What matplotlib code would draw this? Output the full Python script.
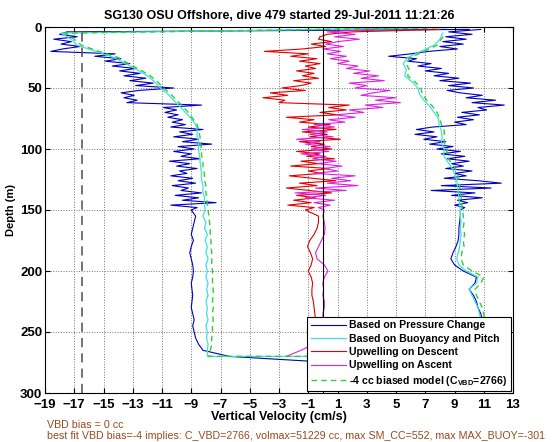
import numpy as np
import matplotlib
matplotlib.use("Agg")
import matplotlib.pyplot as plt

plt.rcParams["font.family"] = "Liberation Sans"
plt.rcParams["mathtext.fontset"] = "custom"
plt.rcParams["mathtext.rm"] = "Liberation Sans"
plt.rcParams["mathtext.bf"] = "Liberation Sans:bold"

# depth grids (m)
depth_fine = np.arange(2, 151, 2)      # 2..150, noisy upper part
depth_deep = np.arange(155, 271, 5)    # 155..270
depth_coarse = np.arange(5, 271, 5)    # 5..270 for smoother curves
depth_surface = 0.5
depth_bottom = 274

# vertical velocity from pressure change (cm/s)
blue_desc_fine = [
    10.0, -17.5, -18.0, -16.8, -18.4, -17.2, -17.9, -16.6, -17.8, -18.6,
    -14.2, -15.6, -13.8, -14.9, -13.2, -14.4, -12.8, -13.9, -12.5, -13.6,
    -12.1, -13.2, -11.6, -12.8, -10.2, -12.6, -13.8, -12.9, -13.6, -12.7,
    -13.4, -8.3, -10.9, -10.0, -10.8, -9.9, -10.6, -9.6, -10.3, -9.4,
    -10.4, -8.2, -9.8, -8.9, -10.2, -8.5, -9.6, -7.6, -9.9, -8.8,
    -10.2, -9.0, -9.7, -8.4, -10.5, -9.1, -10.0, -8.6, -9.8, -9.3,
    -10.4, -8.9, -9.9, -8.7, -10.3, -9.2, -9.7, -8.3, -10.1, -8.5,
    -9.6, -7.3, -10.4, -8.6, -9.0,
]
blue_desc_deep = [
    -8.7, -8.8, -8.9, -9.0, -8.85, -9.0, -9.1, -9.0, -8.9, -8.85, -8.9, -9.0,
    -8.95, -8.9, -8.95, -9.0, -8.9, -8.8, -8.9, -8.8, -8.7, -8.5, -8.2, -6.4,
]
blue_bottom = -0.8
blue_asc_fine = [
    10.8, 8.6, 10.2, 8.4, 9.8, 8.2, 9.6, 8.0, 9.2, 7.2,
    6.0, 4.5, 6.4, 5.8, 7.4, 6.5, 8.1, 7.0, 8.6, 7.6,
    9.3, 8.0, 10.1, 8.6, 10.3, 8.5, 9.4, 10.9, 9.8, 11.8,
    10.2, 12.4, 10.6, 11.2, 9.5, 10.7, 9.2, 10.3, 9.0, 9.8,
    7.5, 6.4, 7.6, 6.3, 7.8, 6.9, 8.4, 7.3, 8.9, 7.8,
    9.4, 8.1, 9.7, 8.5, 10.0, 8.8, 9.6, 8.4, 10.2, 9.0,
    9.8, 8.3, 10.6, 12.2, 8.1, 11.5, 7.4, 10.4, 8.8, 10.9,
    9.2, 9.9, 9.0, 9.7, 9.4,
]
blue_asc_deep = [
    9.4, 9.35, 9.3, 9.3, 9.25, 9.1, 8.9, 8.75, 9.0, 9.6, 10.5, 10.4,
    10.0, 10.3, 10.5, 10.6, 10.8, 10.9, 10.95, 11.0, 10.9, 10.8, 10.6, 10.4,
]

# vertical velocity from buoyancy and pitch (cm/s)
cyan_surface = 8.3
cyan_desc = [
    -17.9, -17.2, -16.8, -15.5, -14.3, -13.5, -12.7, -12.0, -11.5, -11.1,
    -10.6, -10.2, -9.8, -9.4, -9.0, -8.7, -8.6, -8.6, -8.5, -8.5,
    -8.45, -8.4, -8.35, -8.3, -8.3, -8.2, -8.2, -8.1, -8.1, -8.05,
    -8.2, -8.0, -8.1, -7.9, -8.05, -7.9, -8.0, -7.85, -8.0, -7.9,
    -8.0, -7.85, -7.95, -7.85, -8.0, -7.9, -7.95, -7.85, -8.0, -7.9,
    -7.95, -7.85, -7.9, -7.9,
]
cyan_asc = [
    8.2, 8.0, 7.6, 6.7, 5.8, 5.5, 5.7, 5.6, 6.1, 6.5,
    6.6, 6.9, 7.3, 7.6, 7.9, 7.95, 8.1, 8.15, 8.1, 8.3,
    8.25, 8.5, 8.8, 9.0, 9.15, 9.2, 9.25, 9.3, 9.35, 9.4,
    9.4, 9.45, 9.4, 9.45, 9.4, 9.35, 9.25, 9.15, 9.3, 9.8,
    10.6, 10.5, 10.0, 10.2, 10.4, 10.6, 10.7, 10.8, 10.85, 10.9,
    10.85, 10.7, 10.55, 10.4,
]

# -4 cc biased flight model (cm/s)
green_surface = 8.5
green_desc = [
    -17.6, -17.0, -16.5, -15.3, -14.0, -13.3, -12.5, -11.8, -11.3, -10.9,
    -10.4, -10.0, -9.6, -9.2, -8.9, -8.6, -8.5, -8.4, -8.4, -8.3,
    -8.3, -8.2, -8.2, -8.1, -8.1, -8.0, -8.0, -7.95, -7.9, -7.85,
    -7.8, -7.75, -7.7, -7.7, -7.65, -7.65, -7.6, -7.6, -7.6, -7.55,
    -7.55, -7.55, -7.5, -7.5, -7.55, -7.5, -7.55, -7.5, -7.55, -7.55,
    -7.6, -7.6, -7.7, -7.8,
]
green_asc = [
    8.4, 8.1, 7.8, 6.9, 6.0, 5.7, 5.9, 5.8, 6.3, 6.7,
    6.8, 7.1, 7.5, 7.8, 8.0, 8.1, 8.3, 8.3, 8.3, 8.5,
    8.45, 8.7, 9.0, 9.2, 9.3, 9.35, 9.4, 9.45, 9.5, 9.55,
    9.6, 9.65, 9.6, 9.7, 9.6, 9.65, 9.5, 9.45, 9.6, 10.2,
    11.0, 10.8, 10.4, 10.5, 10.7, 10.9, 11.0, 11.05, 11.1, 11.1,
    11.0, 10.9, 10.7, 10.6,
]

# upwelling = pressure - model (cm/s)
red_fine = [
    8.0, 2.0, 0.3, -0.2, -0.3, 0.6, -0.8, 0.2, -1.4, -4.0,
    -1.0, -2.2, -0.4, -1.6, -0.2, -1.2, -0.5, -1.8, -0.6, -1.4,
    -0.3, -2.0, -0.8, -1.5, -2.8, -1.2, -3.6, -2.4, -4.1, -2.6,
    -3.0, 1.8, 0.4, 1.6, -0.2, 1.0, -2.5, -0.6, -1.6, 0.5,
    -1.0, 0.9, -1.4, 0.3, -0.9, 1.2, -1.6, 0.1, -0.8, 0.6,
    -1.8, -0.2, -1.1, 0.8, -1.5, -0.3, -2.2, 0.4, -1.0, -0.1,
    -2.3, -0.7, 0.9, -1.6, -0.4, -2.5, -0.9, 0.6, -1.8, -0.5,
    -2.0, -0.8, -2.4, -0.6, -1.2,
]
red_deep = [
    -0.3, -0.3, -0.4, -0.6, -0.9, -1.05, -0.85, -0.7, -0.8, -1.0, -0.8, -0.7,
    -0.75, -0.75, -0.65, -0.6, -0.55, -0.5, -0.55, -0.6, -0.5, -0.5, -0.45, -0.4,
]
magenta_fine = [
    3.5, 0.3, 2.2, 0.8, 2.5, 1.0, 0.2, 1.4, 0.0, 1.2,
    0.3, 1.6, 0.5, 1.8, 1.0, 2.4, 1.6, 3.2, 2.1, 3.8,
    2.6, 4.2, 1.8, 3.0, 2.2, 4.6, 3.4, 2.6, 5.0, 3.6,
    5.3, 2.9, 4.1, 1.8, 2.8, 0.9, 2.2, 0.4, 1.5, -0.6,
    0.8, -1.4, 0.3, -0.9, 0.7, -1.8, -0.2, -1.2, 0.5, -0.8,
    0.4, -1.5, 0.2, -0.7, 0.9, -0.4, 1.3, 0.1, 1.0, -0.6,
    2.2, 0.6, 1.9, 0.3, 2.4, -0.5, 1.6, -1.9, 0.2, -1.2,
    0.8, -0.6, 0.5, -0.3, 0.1,
]
magenta_deep = [
    0.0, 0.1, 0.15, 0.1, -0.1, -0.3, -0.5, -0.4, 0.1, 0.35, 0.1, 0.0,
    0.05, 0.0, 0.1, 0.1, 0.0, 0.0, -0.1, -0.1, -0.3, -0.6, -1.5, -2.5,
]

vbd_line = -16.5
title = "SG130 OSU Offshore, dive 479 started 29-Jul-2011 11:21:26"
note1 = "VBD bias = 0 cc"
note2 = ("best fit VBD bias=-4 implies: C_VBD=2766, volmax=51229 cc, "
         "max SM_CC=552, max MAX_BUOY=-301")
labels = [
    "Based on Pressure Change",
    "Based on Buoyancy and Pitch",
    "Upwelling on Descent",
    "Upwelling on Ascent",
    r"-4 cc biased model (C$_{\mathbf{VBD}}$=2766)",
]


def dive_profile(desc_depth, desc_vals, asc_depth, asc_vals):
    """Join descent (going down) and ascent (coming up) into one trace."""
    depth = np.concatenate([desc_depth, asc_depth[::-1]])
    vals = np.concatenate([desc_vals, np.asarray(asc_vals)[::-1]])
    return vals, depth


fig = plt.figure(figsize=(5.6, 4.42), dpi=100)
ax = fig.add_axes([45 / 560, 49 / 442, 468 / 560, 366 / 442])

blue_depth_desc = np.concatenate([depth_fine, depth_deep, [depth_bottom]])
blue_vals_desc = np.concatenate([blue_desc_fine, blue_desc_deep, [blue_bottom]])
blue_depth_asc = np.concatenate([depth_fine, depth_deep])
blue_vals_asc = np.concatenate([blue_asc_fine, blue_asc_deep])
bx, by = dive_profile(blue_depth_desc, blue_vals_desc, blue_depth_asc, blue_vals_asc)

cx, cy = dive_profile(np.concatenate([[depth_surface], depth_coarse]),
                      np.concatenate([[cyan_surface], cyan_desc]),
                      depth_coarse, cyan_asc)
gx, gy = dive_profile(np.concatenate([[depth_surface], depth_coarse]),
                      np.concatenate([[green_surface], green_desc]),
                      depth_coarse, green_asc)

ax.plot(bx, by, color="#0000c0", lw=0.8, label=labels[0])
ax.plot(cx, cy, color="#40e0e0", lw=0.9, label=labels[1])
ax.plot(np.concatenate([red_fine, red_deep]), np.concatenate([depth_fine, depth_deep]),
        color="#e00000", lw=0.8, label=labels[2])
ax.plot(np.concatenate([magenta_fine, magenta_deep]), np.concatenate([depth_fine, depth_deep]),
        color="#e020e0", lw=0.8, label=labels[3])
ax.plot(gx, gy, color="#30d030", lw=1.0, ls=(0, (4, 3)), label=labels[4])

ax.axvline(0, color="black", lw=0.8)
ax.axvline(vbd_line, color="0.3", lw=1.1, ls=(0, (6, 4)))

ax.set_xlim(-19, 13)
ax.set_ylim(300, 0)
ax.set_xticks(np.arange(-19, 14, 2))
ax.set_yticks(np.arange(0, 301, 50))
ax.grid(True, ls=":", color="0.45", lw=0.7)
ax.tick_params(direction="in", top=True, right=True, length=3.5, labelsize=9.5)
ax.tick_params(axis="x", pad=4)
ax.tick_params(axis="y", pad=2)
for lbl in ax.get_xticklabels() + ax.get_yticklabels():
    lbl.set_fontweight("bold")

ax.set_title(title, fontsize=9, fontweight="bold", pad=6)
ax.set_xlabel("Vertical Velocity (cm/s)", fontsize=9, fontweight="bold", labelpad=0)
ax.set_ylabel("Depth (m)", fontsize=8, fontweight="bold", labelpad=3)

leg = ax.legend(loc="lower right", prop={"weight": "bold", "size": 7.6},
                handlelength=3.3, borderaxespad=0.15, borderpad=0.35, labelspacing=0.32,
                handletextpad=0.35, fancybox=False, framealpha=1, edgecolor="black")
leg.get_frame().set_linewidth(0.8)

fig.text(47 / 560, 1 - 425 / 442, note1, color="#9a4a1c", fontsize=7.7, va="center")
fig.text(47 / 560, 1 - 436 / 442, note2, color="#9a4a1c", fontsize=7.7, va="center")

fig.savefig("out.png", dpi=100)
